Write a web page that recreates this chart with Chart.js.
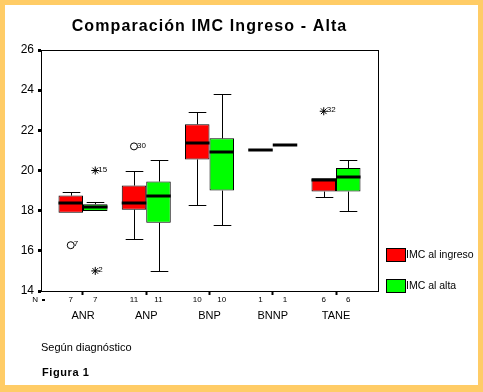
<!DOCTYPE html>
<html>
<head>
<meta charset="utf-8">
<script src="https://cdn.jsdelivr.net/npm/chart.js@4/dist/chart.umd.min.js"></script>
<style>
  html, body { margin: 0; padding: 0; background: #FFCC66; }
  #frame { position: absolute; left: 5px; top: 5px; width: 473px; height: 380px; background: #fff; }
  canvas { display: block; }
</style>
</head>
<body>
<div id="frame"><canvas id="chart" width="473" height="380"></canvas></div>
<script>
const categories = ["ANR", "ANP", "BNP", "BNNP", "TANE"]
const seriesNames = ["IMC al ingreso", "IMC al alta"]
const seriesColors = ["#FF0000", "#00FF00"]
const yTicks = [14, 16, 18, 20, 22, 24, 26]

// IMC al ingreso
const ingresoMin = [17.9, 16.6, 18.3, 21.0, 18.7]
const ingresoQ1 = [17.9, 18.05, 20.55, 21.0, 18.95]
const ingresoMedian = [18.4, 18.4, 21.35, 21.0, 19.55]
const ingresoQ3 = [18.75, 19.25, 22.3, 21.0, 19.62]
const ingresoMax = [18.95, 20.0, 22.9, 21.0, 19.62]
const ingresoN = [7, 11, 10, 1, 6]

// IMC al alta
const altaMin = [17.98, 15.0, 17.3, 21.25, 18.0]
const altaQ1 = [17.98, 17.4, 19.0, 21.25, 18.95]
const altaMedian = [18.2, 18.75, 20.9, 21.25, 19.68]
const altaQ3 = [18.32, 19.45, 21.6, 21.25, 20.12]
const altaMax = [18.45, 20.5, 23.8, 21.25, 20.5]
const altaN = [7, 11, 10, 1, 6]

// outliers (circle) and extremes (star)
const outlierSeries = [0, 1, 1, 0, 0]
const outlierCategory = [0, 0, 0, 1, 4]
const outlierValues = [16.28, 20.0, 15.0, 21.2, 22.95]
const outlierIds = ["7", "15", "2", "30", "32"]
const outlierExtreme = [false, true, true, false, true]

const FONT = "'Liberation Sans', Arial, sans-serif"

function boxData(q1, q3) {
    return categories.map((c, i) => ({ x: i, y: [q1[i], q3[i]] }))
}

const crisp = v => Math.round(v) + 0.5

const boxPlotPlugin = {
    id: "boxPlot",
    afterDatasetsDraw(chart) {
        const ctx = chart.ctx
        const y = chart.scales.y
        ctx.save()
        ctx.strokeStyle = "#000"
        chart.data.datasets.forEach((ds, i) => {
            const meta = chart.getDatasetMeta(i)
            meta.data.forEach((bar, j) => {
                const x = crisp(bar.x)
                const half = bar.width / 2
                const cap = bar.width * 0.36
                const yq1 = y.getPixelForValue(ds.stats.q1[j])
                const yq3 = y.getPixelForValue(ds.stats.q3[j])
                const ymin = y.getPixelForValue(ds.stats.min[j])
                const ymax = y.getPixelForValue(ds.stats.max[j])
                ctx.lineWidth = 1
                ctx.beginPath()
                if (ds.stats.max[j] > ds.stats.q3[j]) {
                    ctx.moveTo(x, yq3)
                    ctx.lineTo(x, crisp(ymax))
                    ctx.moveTo(x - cap, crisp(ymax))
                    ctx.lineTo(x + cap, crisp(ymax))
                }
                if (ds.stats.min[j] < ds.stats.q1[j]) {
                    ctx.moveTo(x, yq1)
                    ctx.lineTo(x, crisp(ymin))
                    ctx.moveTo(x - cap, crisp(ymin))
                    ctx.lineTo(x + cap, crisp(ymin))
                }
                ctx.stroke()
                ctx.lineWidth = 3
                ctx.beginPath()
                const ym = Math.round(y.getPixelForValue(ds.stats.median[j]))
                ctx.moveTo(bar.x - half, ym)
                ctx.lineTo(bar.x + half, ym)
                ctx.stroke()
            })
        })

        // outliers
        ctx.lineWidth = 1
        ctx.font = "8px " + FONT
        ctx.textAlign = "left"
        ctx.textBaseline = "middle"
        outlierValues.forEach((v, k) => {
            const bar = chart.getDatasetMeta(outlierSeries[k]).data[outlierCategory[k]]
            const py = y.getPixelForValue(v)
            ctx.fillStyle = "rgba(0,0,0,0)"
            Chart.helpers.drawPoint(ctx, {
                pointStyle: outlierExtreme[k] ? "star" : "circle",
                radius: outlierExtreme[k] ? 4 : 3.5,
                rotation: 0,
                borderWidth: 1
            }, bar.x, py)
            ctx.fillStyle = "#000"
            ctx.fillText(outlierIds[k], bar.x + 3, py - 1)
        })
        ctx.restore()
    },
    afterDraw(chart) {
        const ctx = chart.ctx
        const area = chart.chartArea
        ctx.save()
        // frame
        ctx.strokeStyle = "#000"
        ctx.lineWidth = 1
        ctx.strokeRect(crisp(area.left), crisp(area.top), Math.round(area.right - area.left), Math.round(area.bottom - area.top))

        // title
        ctx.fillStyle = "#000"
        ctx.font = "bold 16px " + FONT
        ctx.letterSpacing = "1.1px"
        ctx.textAlign = "center"
        ctx.textBaseline = "middle"
        ctx.fillText("Comparación IMC Ingreso - Alta", (area.left + area.right) / 2, 22)
        ctx.letterSpacing = "0px"

        // N row
        ctx.font = "8px " + FONT
        ctx.textAlign = "center"
        const ny = area.bottom + 9
        chart.data.datasets.forEach((ds, i) => {
            chart.getDatasetMeta(i).data.forEach((bar, j) => {
                ctx.fillText(String(ds.n[j]), bar.x, ny)
            })
        })
        ctx.textAlign = "right"
        ctx.fillText("N", area.left - 3, ny)
        ctx.fillRect(area.left + 1, ny - 1, 3, 2)

        // legend
        ctx.font = "10.5px " + FONT
        ctx.textAlign = "left"
        chart.data.datasets.forEach((ds, i) => {
            const lx = area.right + 8
            const ly = area.bottom - 43 + i * 31
            ctx.fillStyle = ds.backgroundColor
            ctx.fillRect(lx, ly, 19, 13)
            ctx.strokeRect(lx + 0.5, ly + 0.5, 19, 13)
            ctx.fillStyle = "#000"
            ctx.fillText(ds.label, lx + 20, ly + 7)
        })

        // footnotes
        ctx.font = "11px " + FONT
        ctx.fillText("Según diagnóstico", area.left, 343)
        ctx.font = "bold 11px " + FONT
        ctx.letterSpacing = "0.6px"
        ctx.fillText("Figura 1", area.left + 1, 368)
        ctx.restore()
    }
}

new Chart(document.getElementById("chart"), {
    type: "bar",
    data: {
        datasets: [
            {
                label: seriesNames[0],
                data: boxData(ingresoQ1, ingresoQ3),
                backgroundColor: seriesColors[0],
                stats: { min: ingresoMin, q1: ingresoQ1, median: ingresoMedian, q3: ingresoQ3, max: ingresoMax },
                n: ingresoN
            },
            {
                label: seriesNames[1],
                data: boxData(altaQ1, altaQ3),
                backgroundColor: seriesColors[1],
                stats: { min: altaMin, q1: altaQ1, median: altaMedian, q3: altaQ3, max: altaMax },
                n: altaN
            }
        ]
    },
    options: {
        responsive: false,
        animation: false,
        layout: { padding: { top: 45, right: 100, bottom: 54, left: 0 } },
        datasets: {
            bar: {
                borderColor: "#000",
                borderWidth: 1,
                borderSkipped: false,
                categoryPercentage: 0.775,
                barPercentage: 1
            }
        },
        plugins: {
            legend: { display: false },
            title: { display: false },
            tooltip: { enabled: false }
        },
        scales: {
            x: {
                type: "linear",
                offset: false,
                min: -0.664,
                max: 4.664,
                afterBuildTicks: scale => {
                    scale.ticks = categories.map((c, i) => ({ value: i }))
                },
                afterFit: scale => { scale.height = 40 },
                ticks: {
                    callback: v => categories[v],
                    color: "#000",
                    font: { family: FONT, size: 11 },
                    padding: 14,
                    maxRotation: 0
                },
                grid: { offset: false, drawOnChartArea: false, tickLength: 4, tickWidth: 2, tickColor: "#000" },
                border: { display: false }
            },
            y: {
                min: 14,
                max: 26,
                afterBuildTicks: scale => {
                    scale.ticks = yTicks.map(v => ({ value: v }))
                },
                afterFit: scale => { scale.width = 36 },
                ticks: {
                    color: "#000",
                    font: { family: FONT, size: 12 },
                    padding: 4
                },
                grid: { drawOnChartArea: false, tickLength: 3, tickWidth: 3, tickColor: "#000" },
                border: { display: false }
            }
        }
    },
    plugins: [boxPlotPlugin]
})
</script>
</body>
</html>
